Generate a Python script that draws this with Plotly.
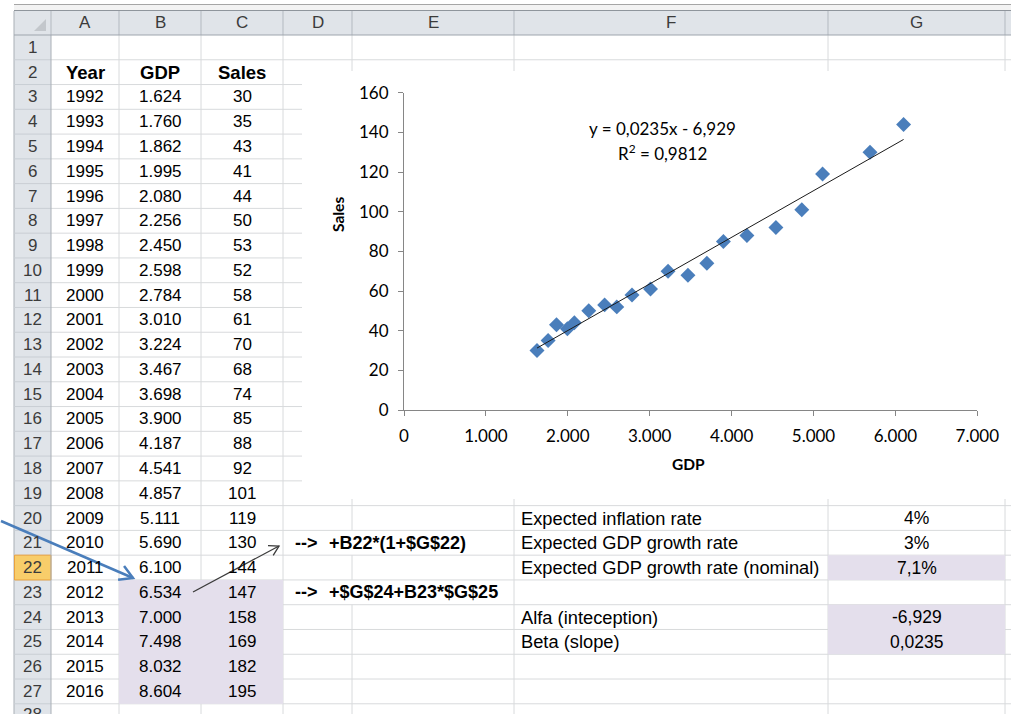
import math
import plotly.graph_objects as go

# ---------------------------------------------------------------- data
YEARS = [1992, 1993, 1994, 1995, 1996, 1997, 1998, 1999, 2000, 2001,
         2002, 2003, 2004, 2005, 2006, 2007, 2008, 2009, 2010, 2011,
         2012, 2013, 2014, 2015, 2016]
GDP = [1624, 1760, 1862, 1995, 2080, 2256, 2450, 2598, 2784, 3010,
       3224, 3467, 3698, 3900, 4187, 4541, 4857, 5111, 5690, 6100,
       6534, 7000, 7498, 8032, 8604]
SALES = [30, 35, 43, 41, 44, 50, 53, 52, 58, 61,
         70, 68, 74, 85, 88, 92, 101, 119, 130, 144,
         147, 158, 169, 182, 195]
N_HIST = 20          # observed years 1992-2011, the rest is forecast

ALPHA = -6.929       # intercept of the fitted line
BETA = 0.0235        # slope of the fitted line
R2 = 0.9812
INFLATION = 0.04
GDP_GROWTH = 0.03
NOMINAL_GROWTH = 0.071

PARAM_LABELS = ["Expected inflation rate", "Expected GDP growth rate",
                "Expected GDP growth rate (nominal)", "",
                "Alfa (inteception)", "Beta (slope)"]
FORMULAS = {21: "+B22*(1+$G$22)", 23: "+$G$24+B23*$G$25"}
COL_LETTERS = ["A", "B", "C", "D", "E", "F", "G"]
X_TICKS = [0, 1000, 2000, 3000, 4000, 5000, 6000, 7000]
Y_TICKS = [0, 20, 40, 60, 80, 100, 120, 140, 160]

# ---------------------------------------------------------------- sheet geometry (pixels)
W, H = 1011, 714
COL_EDGES = [51, 119, 201, 283, 352, 514, 828, 1005]
HDR_X0, HDR_X1 = 14, 51
TOP, ROW_H = 35, 24.77
N_ROWS = 28
CHART = dict(x0=302, x1=W, y0=71, y1=499)
PLOT = dict(x0=404, x1=977.3, y0=92.7, y1=410)

CELL_FONT = "Liberation Sans, Arial, sans-serif"
CHART_FONT = "Lato, Open Sans, sans-serif"
GRID = "#d8dadc"
HEAD_FILL = "#e0e4e9"
HEAD_LINE = "#b3b9c0"
SHADE = "#e4dfec"


def px(x):
    return x / W


def py(y):
    return 1 - y / H


def row_top(r):
    return TOP + (r - 1) * ROW_H


def row_mid(r):
    return TOP + (r - 0.5) * ROW_H


def col_mid(c):
    return (COL_EDGES[c] + COL_EDGES[c + 1]) / 2


shapes = []
annotations = []


def rect(x0, y0, x1, y1, fill, line=None, layer="below", lw=1):
    shapes.append(dict(type="rect", xref="paper", yref="paper",
                       x0=px(x0), x1=px(x1), y0=py(y1), y1=py(y0),
                       fillcolor=fill, layer=layer,
                       line=dict(width=lw if line else 0, color=line or fill)))


def seg(x0, y0, x1, y1, color, width=1, layer="below"):
    shapes.append(dict(type="line", xref="paper", yref="paper",
                       x0=px(x0), x1=px(x1), y0=py(y0), y1=py(y1),
                       layer=layer, line=dict(color=color, width=width)))


def text(x, y, s, anchor="center", size=17, bold=False, color="#000000",
         family=CELL_FONT, angle=0):
    annotations.append(dict(xref="paper", yref="paper", x=px(x), y=py(y),
                            text=f"<b>{s}</b>" if bold else s,
                            showarrow=False, xanchor=anchor, yanchor="middle",
                            textangle=angle,
                            font=dict(family=family, size=size, color=color)))


def arrow(x0, y0, x1, y1, color, width, head):
    seg(x0, y0, x1, y1, color, width, layer="above")
    ang = math.atan2(y1 - y0, x1 - x0)
    pts = []
    for d in (math.radians(150), math.radians(-150)):
        pts.append((x1 + head * math.cos(ang + d), y1 + head * math.sin(ang + d)))
    path = (f"M{px(pts[0][0])},{py(pts[0][1])} L{px(x1)},{py(y1)} "
            f"L{px(pts[1][0])},{py(pts[1][1])}")
    shapes.append(dict(type="path", xref="paper", yref="paper", path=path,
                       layer="above", line=dict(color=color, width=width)))


# ---------------------------------------------------------------- window frame and headers
rect(HDR_X0, 4, W, 11, "#f3f3f3")
seg(HDR_X0, 4.5, W, 4.5, "#a6a6a6")
seg(HDR_X0, 10.5, W, 10.5, "#8f959c")
rect(HDR_X0, 11, W, TOP, HEAD_FILL)
rect(HDR_X0, TOP, HDR_X1, H, HEAD_FILL)
seg(HDR_X0, 11, HDR_X0, H, "#a9afb6")

# cell grid
for r in range(1, N_ROWS + 1):
    y = row_top(r + 1)
    seg(HDR_X1, y, W, y, GRID)
for x in COL_EDGES[1:]:
    if x == 352:
        # text in D21 and D23 spills into column E
        seg(x, TOP, x, row_top(21), GRID)
        seg(x, row_top(22), x, row_top(23), GRID)
        seg(x, row_top(24), x, H, GRID)
    else:
        seg(x, TOP, x, H, GRID)

# row header separators
for r in range(1, N_ROWS + 1):
    y = row_top(r + 1)
    seg(HDR_X0, y, HDR_X1, y, "#c9ced4")
rect(HDR_X0 + 0.5, row_top(22), HDR_X1, row_top(23), "#f8cd6a", "#e9a23f")
seg(HDR_X1, TOP, HDR_X1, H, "#a9afb6")

# column header separators
for x in COL_EDGES:
    seg(x, 11, x, TOP, HEAD_LINE)
seg(HDR_X0, TOP, W, TOP, "#9ea5ad")
shapes.append(dict(type="path", xref="paper", yref="paper", layer="below",
                   path=f"M{px(46)},{py(19)} L{px(46)},{py(31)} L{px(34)},{py(31)} Z",
                   fillcolor="#c3c7cc", line=dict(width=0)))

# shaded cells
rect(COL_EDGES[1], row_top(23), COL_EDGES[3], row_top(28), SHADE)
rect(COL_EDGES[6], row_top(22), COL_EDGES[7], row_top(23), SHADE)
rect(COL_EDGES[6], row_top(24), COL_EDGES[7], row_top(26), SHADE)

# chart object sits on top of the grid
rect(CHART["x0"], CHART["y0"], CHART["x1"], CHART["y1"], "#ffffff")

# ---------------------------------------------------------------- header texts
for c, letter in enumerate(COL_LETTERS):
    text(col_mid(c), 23, letter, color="#3b3b3b")
for r in range(1, N_ROWS):
    text((HDR_X0 + HDR_X1) / 2, row_mid(r), str(r), color="#3b3b3b")

# ---------------------------------------------------------------- table A:C
for c, name in enumerate(["Year", "GDP", "Sales"]):
    text(col_mid(c), row_mid(2), name, bold=True, size=18.5)
for i, (yr, g, s) in enumerate(zip(YEARS, GDP, SALES)):
    r = 3 + i
    text(col_mid(0), row_mid(r), str(yr))
    text(col_mid(1), row_mid(r), f"{g:,}".replace(",", "."))
    text(col_mid(2), row_mid(r), str(s))

# formula notes
for r, f in FORMULAS.items():
    text(293, row_mid(r), "-->", anchor="left", bold=True, size=18)
    text(327, row_mid(r), f, anchor="left", bold=True, size=18)

# parameters F:G
param_values = [f"{INFLATION * 100:.0f}%", f"{GDP_GROWTH * 100:.0f}%",
                f"{NOMINAL_GROWTH * 100:.1f}%".replace(".", ","), "",
                f"{ALPHA:.3f}".replace(".", ","), f"{BETA:.4f}".replace(".", ",")]
for k, (lab, val) in enumerate(zip(PARAM_LABELS, param_values)):
    r = 20 + k
    if lab:
        text(519, row_mid(r), lab, anchor="left", size=18.3)
    if val:
        text(col_mid(6), row_mid(r), val, size=17.5)

# arrows
arrow(1, 521, 133, 578, "#4a7ebb", 2.5, 15)
arrow(193, 592, 279, 546, "#3a3a3a", 1.3, 11)

# ---------------------------------------------------------------- scatter chart
hx, hy = GDP[:N_HIST], SALES[:N_HIST]
fit_x = [min(hx), max(hx)]
fit_y = [ALPHA + BETA * v for v in fit_x]

fig = go.Figure()
fig.add_trace(go.Scatter(x=hx, y=hy, mode="markers",
                         marker=dict(symbol="diamond", size=11.5, color="#4a7ebb",
                                     line=dict(width=0)),
                         showlegend=False, hoverinfo="x+y"))
fig.add_trace(go.Scatter(x=fit_x, y=fit_y, mode="lines",
                         line=dict(color="#1a1a1a", width=1),
                         showlegend=False, hoverinfo="skip"))

# last row label is cut by the window edge: drawn on a full-page pixel axis
# so the subplot clips it instead of letting it push the margins
fig.add_trace(go.Scatter(x=[(HDR_X0 + HDR_X1) / 2], y=[row_mid(N_ROWS)],
                         mode="text", text=[str(N_ROWS)],
                         textfont=dict(family=CELL_FONT, size=17, color="#3b3b3b"),
                         xaxis="x2", yaxis="y2", cliponaxis=True,
                         showlegend=False, hoverinfo="skip"))

text(662, 128, f"y = {BETA:.4f}x - {abs(ALPHA):.3f}".replace(".", ","),
     size=17, family=CHART_FONT)
text(662, 152, f"R<sup>2</sup> = {R2:.4f}".replace(".", ","),
     size=17, family=CHART_FONT)
text(688, 464, "GDP", bold=True, size=15.5, family=CHART_FONT)
text(338, 215, "Sales", bold=True, size=15.5, family=CHART_FONT, angle=-90)

axis_common = dict(showgrid=False, zeroline=False, showline=True,
                   linecolor="#868686", linewidth=1, ticks="outside",
                   ticklen=5, tickcolor="#868686", tickwidth=1,
                   tickfont=dict(family=CHART_FONT, size=17, color="#000000"))

fig.update_layout(
    width=W, height=H, autosize=False,
    margin=dict(l=0, r=0, t=0, b=0, pad=0, autoexpand=False),
    paper_bgcolor="#ffffff", plot_bgcolor="rgba(0,0,0,0)",
    separators=",.",
    xaxis=dict(domain=[px(PLOT["x0"]), px(PLOT["x1"])], range=[0, 7000],
               tickvals=X_TICKS, tickformat=",d", ticklabelstandoff=6,
               fixedrange=True, automargin=False, **axis_common),
    yaxis=dict(domain=[py(PLOT["y1"]), py(PLOT["y0"])], range=[0, 160],
               tickvals=Y_TICKS, ticklabelstandoff=6,
               fixedrange=True, automargin=False, **axis_common),
    xaxis2=dict(domain=[0, 1], range=[0, W], visible=False, fixedrange=True,
                anchor="y2"),
    yaxis2=dict(domain=[0, 1], range=[H, 0], visible=False, fixedrange=True,
                anchor="x2"),
    shapes=shapes,
    annotations=annotations,
)

# the page body keeps no default margin so the figure fills the window
fig.write_html("out.html",
               post_script="document.body.style.margin='0';"
                           "document.body.style.overflow='hidden';")
